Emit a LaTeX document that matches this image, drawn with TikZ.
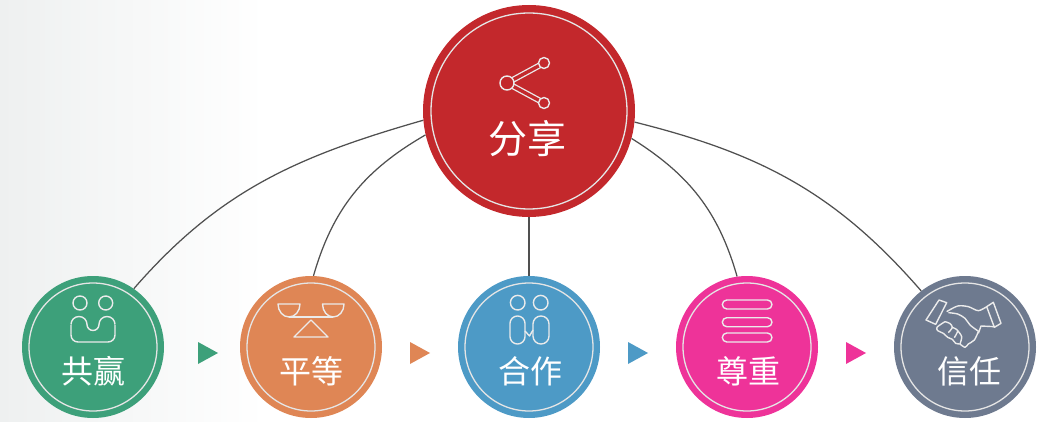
\documentclass[tikz,border=0pt]{standalone}
\usepackage{fontspec}
\setmainfont{Noto Sans CJK SC}
\usetikzlibrary{positioning}
\definecolor{pRed}{HTML}{C3282C}
\definecolor{pGreen}{HTML}{3DA07A}
\definecolor{pOrange}{HTML}{DF8655}
\definecolor{pBlue}{HTML}{4D9AC6}
\definecolor{pPink}{HTML}{EE3399}
\definecolor{pSlate}{HTML}{6E7A8F}
\definecolor{pShade}{HTML}{EEF0F0}
\definecolor{pLine}{HTML}{505050}
\tikzset{
    disc/.style={circle, inner sep=0pt, minimum size=142pt, fill=#1},
    bigdisc/.style={circle, inner sep=0pt, minimum size=212pt, fill=#1},
    ring/.style={circle, draw=white!90!black, line width=1.3pt, inner sep=0pt, minimum size=128pt},
    bigring/.style={circle, draw=white!90!black, line width=1.3pt, inner sep=0pt, minimum size=196pt},
    label/.style={text=white, inner sep=0pt, font=\fontsize{32}{32}\selectfont},
    biglabel/.style={text=white, inner sep=0pt, font=\fontsize{39}{39}\selectfont},
    link/.style={draw=pLine, line width=1.25pt},
    glyph/.style={draw=white!92!black, line width=1.4pt, line join=round}
}

\begin{document}
\begin{tikzpicture}[x=1pt,y=1pt]
\useasboundingbox (0,0) rectangle (1042,421);
\shade[left color=pShade, right color=white] (0,0) rectangle (265,421);

% circles
\node[bigdisc=pRed] (share) at (529,310) {};
\node[disc=pGreen]  (win)     at ( 93,74) {};
\node[disc=pOrange] (equal)   at (311,74) {};
\node[disc=pBlue]   (team)    at (529,74) {};
\node[disc=pPink]   (respect) at (747,74) {};
\node[disc=pSlate]  (trust)   at (965,74) {};

\node[bigring] (sharering) at (share) {};
\node[ring] (winring)     at (win) {};
\node[ring] (equalring)   at (equal) {};
\node[ring] (teamring)    at (team) {};
\node[ring] (respectring) at (respect) {};
\node[ring] (trustring)   at (trust) {};

% labels
\node[biglabel] (sharetext) at (527.5,282) {分享};
\node[label] (wintext)     at ( 93,50) {共赢};
\node[label] (equaltext)   at (311,50) {平等};
\node[label] (teamtext)    at (530,50) {合作};
\node[label] (respecttext) at (748,50) {尊重};
\node[label] (trusttext)   at (969,50) {信任};

% connectors
\draw[link] (share.185.5) to[out=196,in=49] (win.55.6);
\draw[link] (share.193.8) to[out=210,in=74] (equal.88);
\draw[link] (share.south) -- (team.north);
\draw[link] (share.-15.2) to[out=-32,in=106] (respect.98);
\draw[link] (share.-6.5) to[out=-14,in=131] (trust.128.8);

% arrows between the circles
\fill[pGreen]  (198,79) -- (218,68) -- (198,57) -- cycle;
\fill[pOrange] (410,79) -- (430,68) -- (410,57) -- cycle;
\fill[pBlue]   (628,79) -- (648,68) -- (628,57) -- cycle;
\fill[pPink]   (846,79) -- (866,68) -- (846,57) -- cycle;

% share icon
\draw[white!92!black, line width=6pt] (507,338) -- (544,358);
\draw[white!92!black, line width=6pt] (507,338) -- (544,318);
\draw[pRed, line width=3.4pt] (507,338) -- (544,358);
\draw[pRed, line width=3.4pt] (507,338) -- (544,318);
\draw[glyph, fill=pRed] (507,338) circle (7pt);
\draw[glyph, fill=pRed] (544,358) circle (5.5pt);
\draw[glyph, fill=pRed] (544,318) circle (5.5pt);

% win icon
\begin{scope}[shift={(win)}]
\draw[glyph] (-13,44) circle (7pt);
\draw[glyph] ( 12.7,44) circle (7pt);
\draw[glyph, rounded corners=7pt] (-22,22) -- (-22,5) -- (22,5) -- (22,22);
\draw[glyph] (-22,22.5) arc (180:0:8) arc (180:360:6) arc (180:0:8);
\end{scope}

% equal icon
\begin{scope}[shift={(equal)}]
\draw[glyph] (-33,43) -- (-11,43) arc (0:-180:11 and 13) -- cycle;
\draw[glyph] (11.5,43) -- (33,43) arc (0:-180:10.75 and 13) -- cycle;
\draw[glyph] (-22,30) -- (22,30);
\draw[glyph] (-17,10) -- (0,27) -- (17,10) -- cycle;
\end{scope}

% team icon
\begin{scope}[shift={(team)}]
\draw[glyph] (-11.3,44.3) circle (7.3pt);
\draw[glyph] ( 11.7,44.3) circle (7.3pt);
\draw[glyph, rounded corners=7.4pt] (-19,3) rectangle (-4,31);
\draw[glyph, rounded corners=7.9pt] (4,3) rectangle (20,31);
\draw[glyph] (-4,16) -- (0.5,11) -- (4,17);
\end{scope}

% respect icon
\begin{scope}[shift={(respect)}]
\draw[glyph, rounded corners=4.5pt] (-24.7,38) rectangle (25,47);
\draw[glyph, rounded corners=4.5pt] (-24.7,20.3) rectangle (25,29.3);
\draw[glyph, rounded corners=4.5pt] (-24.7,5) rectangle (25,14);
\end{scope}

% trust icon
\begin{scope}[shift={(915,131)},xscale=1/3,yscale=-1/3]
\draw[glyph] (72,30) -- (95,38) -- (62,103) -- (33,90) -- cycle;
\draw[glyph] (215,50) -- (235,37) -- (258,100) -- (238,112) -- cycle;
\draw[glyph] plot[smooth] coordinates {(95,65) (128,48) (160,50) (190,62) (215,50)};
\draw[glyph] plot[smooth] coordinates {(100,68) (128,72) (150,85) (165,105) (192,125)};
\draw[glyph] (238,110) -- (198,108) -- (190,130);
\draw[glyph] plot[smooth] coordinates {(190,125) (178,150) (160,162) (150,172) (135,162)};
\draw[glyph] plot[smooth] coordinates {(135,162) (122,160) (112,148) (98,142) (85,130) (68,122) (66,112) (82,100) (90,95)};
\draw[glyph] plot[smooth] coordinates {(90,95) (104,100) (112,112) (100,128)};
\draw[glyph] plot[smooth] coordinates {(112,112) (128,122) (118,143)};
\draw[glyph] plot[smooth] coordinates {(128,122) (140,140) (135,162)};
\end{scope}
\end{tikzpicture}
\end{document}
